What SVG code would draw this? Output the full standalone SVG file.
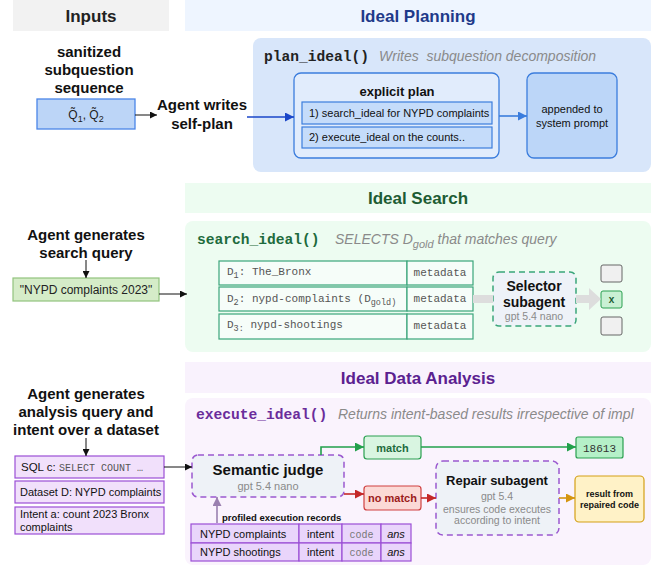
<svg xmlns="http://www.w3.org/2000/svg" width="668" height="569" viewBox="0 0 668 569">
<style>
.sans{font-family:"Liberation Sans",Arial,sans-serif}
.mono{font-family:"Liberation Mono","Courier New",monospace}
.h{font-family:"Liberation Sans",Arial,sans-serif;font-weight:bold;font-size:17px;text-anchor:middle}
.lbl{font-family:"Liberation Sans",Arial,sans-serif;font-weight:bold;font-size:15px;text-anchor:middle;fill:#111}
.fn{font-family:"Liberation Mono","Courier New",monospace;font-weight:bold;font-size:14.6px}
.desc{font-family:"Liberation Sans",Arial,sans-serif;font-style:italic;font-size:14px;fill:#8a8a8a}
.s11{font-family:"Liberation Sans",Arial,sans-serif;font-size:11px;fill:#111}
.c{text-anchor:middle}
.gray{fill:#8a8a8a}
.dr{fill:#f6fdf9;stroke:#3aa57a;stroke-width:1.2}
.dt{font-family:"Liberation Mono","Courier New",monospace;font-size:11px;fill:#555}
.pr{fill:#e9d5fb;stroke:#9b4fd6;stroke-width:1.2}
.in{fill:#f1e0fb;stroke:#9b4fd6;stroke-width:1.2}
.dash{stroke-dasharray:6 4;stroke-width:1.5}
</style>
<defs>
<marker id="ak" viewBox="0 0 10 10" refX="10" refY="5" markerWidth="7" markerHeight="7" orient="auto" markerUnits="userSpaceOnUse"><path d="M0,0L10,5L0,10z" fill="#111"/></marker>
<marker id="ab" viewBox="0 0 10 10" refX="10" refY="5" markerWidth="9" markerHeight="9" orient="auto" markerUnits="userSpaceOnUse"><path d="M0,0L10,5L0,10z" fill="#1a46c8"/></marker>
<marker id="ab2" viewBox="0 0 10 10" refX="10" refY="5" markerWidth="9" markerHeight="9" orient="auto" markerUnits="userSpaceOnUse"><path d="M0,0L10,5L0,10z" fill="#3b7ddd"/></marker>
<marker id="ag" viewBox="0 0 10 10" refX="10" refY="5" markerWidth="9" markerHeight="9" orient="auto" markerUnits="userSpaceOnUse"><path d="M0,0L10,5L0,10z" fill="#22a04b"/></marker>
<marker id="ar" viewBox="0 0 10 10" refX="10" refY="5" markerWidth="9" markerHeight="9" orient="auto" markerUnits="userSpaceOnUse"><path d="M0,0L10,5L0,10z" fill="#c42828"/></marker>
<marker id="ao" viewBox="0 0 10 10" refX="10" refY="5" markerWidth="9" markerHeight="9" orient="auto" markerUnits="userSpaceOnUse"><path d="M0,0L10,5L0,10z" fill="#d4950f"/></marker>
<marker id="ap" viewBox="0 0 10 10" refX="10" refY="5" markerWidth="9" markerHeight="9" orient="auto" markerUnits="userSpaceOnUse"><path d="M0,0L10,5L0,10z" fill="#9a80b0"/></marker>
</defs>
<rect width="668" height="569" fill="#ffffff"/>

<!-- header bands -->
<g id="band-inputs"><rect x="13" y="0" width="156" height="31" fill="#f2f2f2"/><text class="h" x="91" y="22" fill="#222">Inputs</text></g>
<g id="band-planning"><rect x="185" y="0" width="466" height="31" fill="#eef5ff"/><text class="h" x="418" y="22" fill="#1f3a8a">Ideal Planning</text></g>
<g id="band-search"><rect x="185" y="183" width="466" height="30" fill="#edfcf1"/><text class="h" x="418" y="204" fill="#1d5c34">Ideal Search</text></g>
<g id="band-analysis"><rect x="185" y="362" width="466" height="31" fill="#f9f2fd"/><text class="h" x="418" y="384" fill="#5b2190">Ideal Data Analysis</text></g>

<!-- planning -->
<g id="plan-container">
<rect x="253" y="38" width="398" height="134" rx="8" fill="#d8e6fa"/>
<text class="fn" x="264" y="61" fill="#222">plan_ideal()</text>
<text class="desc" x="379" y="61">Writes&#160; subquestion decomposition</text>
</g>
<g id="explicit-plan">
<rect x="294" y="73" width="205" height="85" rx="7" fill="#e1ecfc" stroke="#3b7ddd" stroke-width="1.3"/>
<text class="sans" x="397" y="96" font-size="13" font-weight="bold" text-anchor="middle" fill="#111">explicit plan</text>
<rect x="302" y="102" width="190" height="22" fill="#c5dcfa" stroke="#3b7ddd" stroke-width="1.2"/>
<text class="s11" x="309" y="117">1) search_ideal for NYPD complaints</text>
<rect x="302" y="127" width="190" height="21" fill="#c5dcfa" stroke="#3b7ddd" stroke-width="1.2"/>
<text class="s11" x="309" y="141">2) execute_ideal on the counts..</text>
</g>
<g id="appended">
<rect x="527" y="73" width="90" height="85" rx="7" fill="#bcd6f8" stroke="#3b7ddd" stroke-width="1.3"/>
<text class="s11 c" x="572" y="113">appended to</text>
<text class="s11 c" x="572" y="127">system prompt</text>
</g>

<!-- inputs planning -->
<g id="input-plan">
<text class="lbl" x="89" y="57">sanitized</text>
<text class="lbl" x="89" y="75">subquestion</text>
<text class="lbl" x="89" y="93">sequence</text>
<rect x="37" y="99" width="98" height="30" fill="#bcd5f7" stroke="#4a86e8" stroke-width="1.3"/>
<text class="sans" x="86" y="119" font-size="12" text-anchor="middle" fill="#222">Q&#771;<tspan font-size="9" dy="3">1</tspan><tspan dy="-3">, Q&#771;</tspan><tspan font-size="9" dy="3">2</tspan></text>
</g>
<g id="agent-writes">
<text class="sans" x="202" y="110" font-size="15" font-weight="bold" text-anchor="middle" fill="#111">Agent writes</text>
<text class="sans" x="202" y="129" font-size="15" font-weight="bold" text-anchor="middle" fill="#111">self-plan</text>
</g>

<!-- search -->
<g id="search-container">
<rect x="185" y="221" width="466" height="131" rx="8" fill="#edfcf1"/>
<text class="fn" x="197" y="244" fill="#1d6b3d">search_ideal()</text>
<text class="desc" x="335" y="244">SELECTS D<tspan font-size="11" dy="4">gold</tspan><tspan dy="-4"> that matches query</tspan></text>
</g>
<g id="datasets">
<rect class="dr" x="219" y="261" width="188" height="24"/><rect class="dr" x="407" y="261" width="66" height="24"/>
<rect class="dr" x="219" y="287" width="188" height="24"/><rect class="dr" x="407" y="287" width="66" height="24"/>
<rect class="dr" x="219" y="314" width="188" height="25"/><rect class="dr" x="407" y="314" width="66" height="25"/>
<text class="dt" x="227" y="275">D<tspan font-size="8.5" dy="3">1</tspan><tspan dy="-3">: The_Bronx</tspan></text>
<text class="dt" x="227" y="302">D<tspan font-size="8.5" dy="3">2</tspan><tspan dy="-3">: nypd-complaints (D</tspan><tspan font-size="8.5" dy="3">gold)</tspan></text>
<text class="dt" x="227" y="328">D<tspan font-size="8.5" dy="3">3:</tspan><tspan dy="-3"> nypd-shootings</tspan></text>
<text class="dt c" x="440" y="276">metadata</text>
<text class="dt c" x="440" y="302">metadata</text>
<text class="dt c" x="440" y="329">metadata</text>
</g>
<g id="selector">
<rect x="493" y="272" width="83" height="54" rx="6" fill="#eef2f8" stroke="#3aa57a" class="dash"/>
<text class="sans" x="534" y="291" font-size="14" font-weight="bold" text-anchor="middle" fill="#111">Selector</text>
<text class="sans" x="534" y="307" font-size="14" font-weight="bold" text-anchor="middle" fill="#111">subagent</text>
<text class="sans gray" x="534" y="320" font-size="10.5" text-anchor="middle">gpt 5.4 nano</text>
</g>
<g id="choices">
<rect x="601" y="265" width="21" height="17" rx="2" fill="#f0f0f0" stroke="#666" stroke-width="1"/>
<rect x="601" y="291" width="21" height="17" rx="2" fill="#c9f0d4" stroke="#2aa050" stroke-width="1"/>
<text class="mono" x="611.5" y="303" font-size="10" font-weight="bold" text-anchor="middle" fill="#1d5c34">x</text>
<rect x="601" y="317" width="21" height="18" rx="2" fill="#f0f0f0" stroke="#666" stroke-width="1"/>
</g>
<g id="input-search">
<text class="lbl" x="86" y="240">Agent generates</text>
<text class="lbl" x="86" y="258">search query</text>
<rect x="13" y="278" width="146" height="23" fill="#d5ecc8" stroke="#92c47d" stroke-width="1.2"/>
<text class="sans" x="86" y="294" font-size="12" text-anchor="middle" fill="#222">"NYPD complaints 2023"</text>
</g>

<!-- analysis -->
<g id="analysis-container">
<rect x="185" y="398" width="466" height="167" rx="8" fill="#faf3fd"/>
<text class="fn" x="196" y="419" fill="#6a2c9b">execute_ideal()</text>
<text class="desc" x="338" y="419">Returns intent-based results irrespective of impl</text>
</g>
<g id="semantic-judge">
<rect x="192" y="455" width="152" height="42" rx="6" fill="#eef2f7" stroke="#9b59d0" class="dash"/>
<text class="sans" x="268" y="475" font-size="15" font-weight="bold" text-anchor="middle" fill="#111">Semantic judge</text>
<text class="sans gray" x="268" y="490" font-size="11" text-anchor="middle">gpt 5.4 nano</text>
</g>
<g id="match">
<rect x="364" y="436" width="57" height="23" rx="3" fill="#d9f5e1" stroke="#2aa050" stroke-width="1.2"/>
<text class="sans" x="392.5" y="452" font-size="11" font-weight="bold" text-anchor="middle" fill="#1d6b3d">match</text>
</g>
<g id="result-18613">
<rect x="576" y="437" width="47" height="21" rx="2" fill="#b5f0c8" stroke="#2aa050" stroke-width="1.2"/>
<text class="mono" x="599.5" y="451.5" font-size="11" text-anchor="middle" fill="#333">18613</text>
</g>
<g id="no-match">
<rect x="364" y="486" width="57" height="24" rx="3" fill="#fbd9d6" stroke="#d04040" stroke-width="1.2"/>
<text class="sans" x="392.5" y="502" font-size="11" font-weight="bold" text-anchor="middle" fill="#9b1c1c">no match</text>
</g>
<g id="repair">
<rect x="436" y="461" width="123" height="74" rx="7" fill="#eef2f7" stroke="#9b59d0" class="dash"/>
<text class="sans" x="497" y="485" font-size="13" font-weight="bold" text-anchor="middle" fill="#111">Repair subagent</text>
<text class="sans gray" x="497" y="500" font-size="10.5" text-anchor="middle">gpt 5.4</text>
<text class="sans gray" x="497" y="513" font-size="10.5" text-anchor="middle">ensures code executes</text>
<text class="sans gray" x="497" y="524" font-size="10.5" text-anchor="middle">according to intent</text>
</g>
<g id="result-repaired">
<rect x="575" y="476" width="69" height="46" rx="4" fill="#fff2c7" stroke="#d4a017" stroke-width="1.2"/>
<text class="sans" x="609.5" y="497" font-size="9" font-weight="bold" text-anchor="middle" fill="#111">result from</text>
<text class="sans" x="609.5" y="508" font-size="9" font-weight="bold" text-anchor="middle" fill="#111">repaired code</text>
</g>
<g id="records">
<text class="sans" x="222" y="521" font-size="9.5" font-weight="bold" fill="#111">profiled execution records</text>
<rect class="pr" x="191" y="524" width="108" height="19"/><rect class="pr" x="299" y="524" width="43" height="19"/><rect class="pr" x="342" y="524" width="39" height="19"/><rect class="pr" x="381" y="524" width="30" height="19"/>
<rect class="pr" x="191" y="543" width="108" height="18"/><rect class="pr" x="299" y="543" width="43" height="18"/><rect class="pr" x="342" y="543" width="39" height="18"/><rect class="pr" x="381" y="543" width="30" height="18"/>
<text class="s11" x="200" y="538">NYPD complaints</text>
<text class="s11 c" x="320.5" y="538">intent</text>
<text class="mono c" x="361.5" y="538" font-size="10" fill="#777">code</text>
<text class="sans c" x="396" y="538" font-size="11" font-style="italic" fill="#111">ans</text>
<text class="s11" x="200" y="556">NYPD shootings</text>
<text class="s11 c" x="320.5" y="556">intent</text>
<text class="mono c" x="361.5" y="556" font-size="10" fill="#777">code</text>
<text class="sans c" x="396" y="556" font-size="11" font-style="italic" fill="#111">ans</text>
</g>
<g id="input-analysis">
<text class="lbl" x="86" y="399">Agent generates</text>
<text class="lbl" x="86" y="417">analysis query and</text>
<text class="lbl" x="86" y="435">intent over a dataset</text>
<rect class="in" x="15" y="456" width="149" height="22"/>
<text class="sans" x="21" y="471" font-size="11.5" fill="#111">SQL c: <tspan class="mono" font-size="10" fill="#555">SELECT COUNT …</tspan></text>
<rect class="in" x="15" y="481" width="149" height="22"/>
<text class="sans" x="20" y="496" font-size="11" fill="#111">Dataset D: NYPD complaints</text>
<rect class="in" x="15" y="507" width="149" height="27"/>
<text class="sans" x="20" y="518" font-size="11" fill="#111">Intent a: count 2023 Bronx</text>
<text class="sans" x="20" y="531" font-size="11" fill="#111">complaints</text>
</g>

<!-- connectors -->
<g id="connectors" fill="none">
<line x1="135" y1="115" x2="157" y2="115" stroke="#111" stroke-width="1" marker-end="url(#ak)"/>
<line x1="247" y1="117" x2="294" y2="117" stroke="#1a46c8" stroke-width="1.6" marker-end="url(#ab)"/>
<line x1="499" y1="116" x2="527" y2="116" stroke="#3b7ddd" stroke-width="1.6" marker-end="url(#ab2)"/>
<line x1="86" y1="260" x2="86" y2="278" stroke="#111" stroke-width="1" marker-end="url(#ak)"/>
<line x1="159" y1="294" x2="187" y2="294" stroke="#111" stroke-width="1" marker-end="url(#ak)"/>
<rect x="473" y="295" width="20" height="8" fill="#dddddd"/>
<path d="M576,295H589V288L601,299L589,310V303H576Z" fill="#dddddd"/>
<line x1="86" y1="438" x2="86" y2="456" stroke="#111" stroke-width="1" marker-end="url(#ak)"/>
<line x1="164" y1="467" x2="192" y2="467" stroke="#111" stroke-width="1" marker-end="url(#ak)"/>
<path d="M321,455V447H364" stroke="#22a04b" stroke-width="1.6" marker-end="url(#ag)"/>
<line x1="421" y1="447" x2="576" y2="447" stroke="#22a04b" stroke-width="1.6" marker-end="url(#ag)"/>
<line x1="344" y1="494" x2="364" y2="494" stroke="#c42828" stroke-width="1.6" marker-end="url(#ar)"/>
<line x1="421" y1="498" x2="436" y2="498" stroke="#c42828" stroke-width="1.6" marker-end="url(#ar)"/>
<line x1="559" y1="498" x2="575" y2="498" stroke="#d4950f" stroke-width="1.6" marker-end="url(#ao)"/>
<line x1="217" y1="523" x2="217" y2="497" stroke="#9a80b0" stroke-width="1.6" marker-end="url(#ap)"/>
</g>
</svg>
